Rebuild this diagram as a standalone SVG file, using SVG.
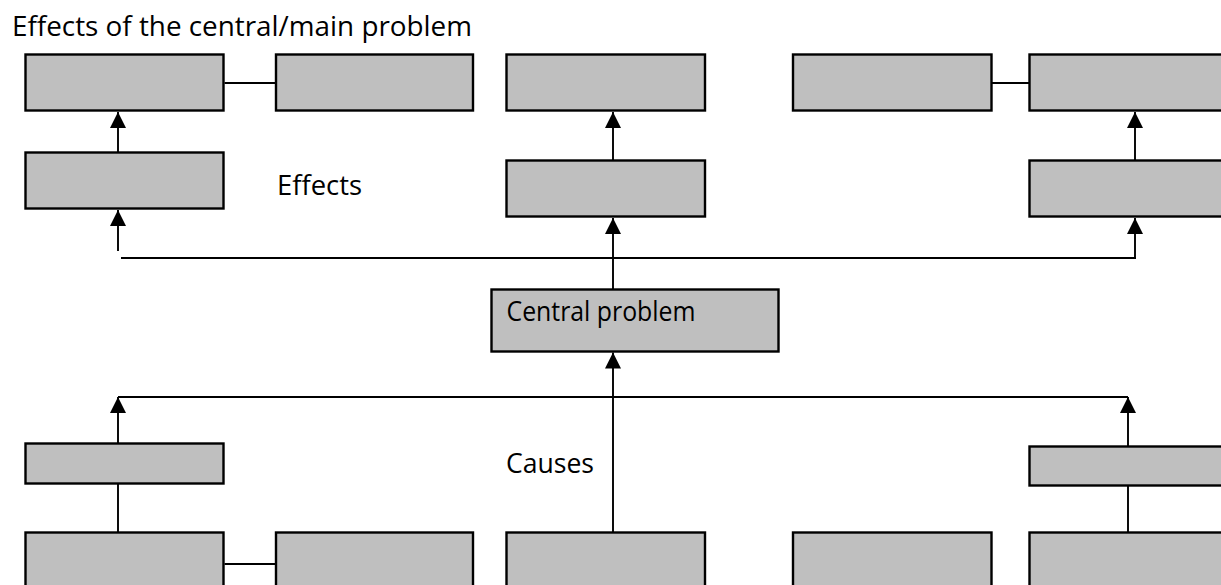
<svg xmlns="http://www.w3.org/2000/svg" width="1221" height="585" viewBox="0 0 1221 585">
  <defs>
    <style>
      .box { fill: #bfbfbf; stroke: #000; stroke-width: 2.4; }
      .ln { stroke: #000; stroke-width: 1.9; fill: none; }
      .arr { marker-end: url(#ah); }
      .txt { font-family: "Open Sans", "Liberation Sans", sans-serif; font-size: 28px; fill: #000; }
    </style>
    <marker id="ah" markerUnits="userSpaceOnUse" markerWidth="17" markerHeight="17" refX="16" refY="8" orient="auto" viewBox="0 0 17 16">
      <path d="M0,0 L16,8 L0,16 z" fill="#000"/>
    </marker>
  </defs>
  <rect width="1221" height="585" fill="#fff"/>

  <text class="txt" x="12" y="36" textLength="460" lengthAdjust="spacingAndGlyphs">Effects of the central/main problem</text>

  <g id="connectors">
    <line class="ln" x1="224.5" y1="83" x2="275.5" y2="83"/>
    <line class="ln" x1="992" y1="83" x2="1029" y2="83"/>
    <line class="ln arr" x1="118" y1="161" x2="118" y2="112"/>
    <line class="ln arr" x1="118" y1="251" x2="118" y2="210"/>
    <line class="ln" x1="121" y1="258" x2="1136" y2="258"/>
    <line class="ln arr" x1="613" y1="160" x2="613" y2="112"/>
    <line class="ln arr" x1="613" y1="289" x2="613" y2="218"/>
    <line class="ln arr" x1="1135" y1="160" x2="1135" y2="112"/>
    <line class="ln arr" x1="1135" y1="258" x2="1135" y2="218"/>
    <line class="ln arr" x1="613" y1="532" x2="613" y2="352.5"/>
    <line class="ln" x1="118" y1="397" x2="1128" y2="397"/>
    <line class="ln arr" x1="118" y1="443" x2="118" y2="397"/>
    <line class="ln" x1="118" y1="532" x2="118" y2="484"/>
    <line class="ln arr" x1="1128" y1="446" x2="1128" y2="397"/>
    <line class="ln" x1="1128" y1="532" x2="1128" y2="486"/>
    <line class="ln" x1="224.5" y1="564" x2="275.5" y2="564"/>
  </g>

  <g id="effect-top-1"><rect class="box" x="25.5" y="54.5" width="198" height="56"/></g>
  <g id="effect-top-2"><rect class="box" x="276" y="54.5" width="197" height="56"/></g>
  <g id="effect-top-3"><rect class="box" x="506.5" y="54.5" width="198.5" height="56"/></g>
  <g id="effect-top-4"><rect class="box" x="793" y="54.5" width="198.5" height="56"/></g>
  <g id="effect-top-5"><rect class="box" x="1029.5" y="54.5" width="199" height="56"/></g>

  <g id="effect-mid-1"><rect class="box" x="25.5" y="152.5" width="198" height="56"/></g>
  <g id="effect-mid-2"><rect class="box" x="506.5" y="160.5" width="198.5" height="56"/></g>
  <g id="effect-mid-3"><rect class="box" x="1029.5" y="160.5" width="199" height="56"/></g>

  <g id="effects-label"><text class="txt" x="277" y="195" textLength="85" lengthAdjust="spacingAndGlyphs">Effects</text></g>

  <g id="central-problem">
    <rect class="box" x="491.5" y="289.5" width="287" height="62"/>
    <text class="txt" x="506.5" y="321" textLength="189" lengthAdjust="spacingAndGlyphs">Central problem</text>
  </g>

  <g id="causes-label"><text class="txt" x="506" y="472.5" textLength="88" lengthAdjust="spacingAndGlyphs">Causes</text></g>

  <g id="cause-mid-1"><rect class="box" x="25.5" y="443.5" width="198" height="40"/></g>
  <g id="cause-mid-2"><rect class="box" x="1029.5" y="446.5" width="199" height="39"/></g>

  <g id="cause-bot-1"><rect class="box" x="25.5" y="532.5" width="198" height="60"/></g>
  <g id="cause-bot-2"><rect class="box" x="276" y="532.5" width="197" height="60"/></g>
  <g id="cause-bot-3"><rect class="box" x="506.5" y="532.5" width="198.5" height="60"/></g>
  <g id="cause-bot-4"><rect class="box" x="793" y="532.5" width="198.5" height="60"/></g>
  <g id="cause-bot-5"><rect class="box" x="1029.5" y="532.5" width="199" height="60"/></g>
</svg>
